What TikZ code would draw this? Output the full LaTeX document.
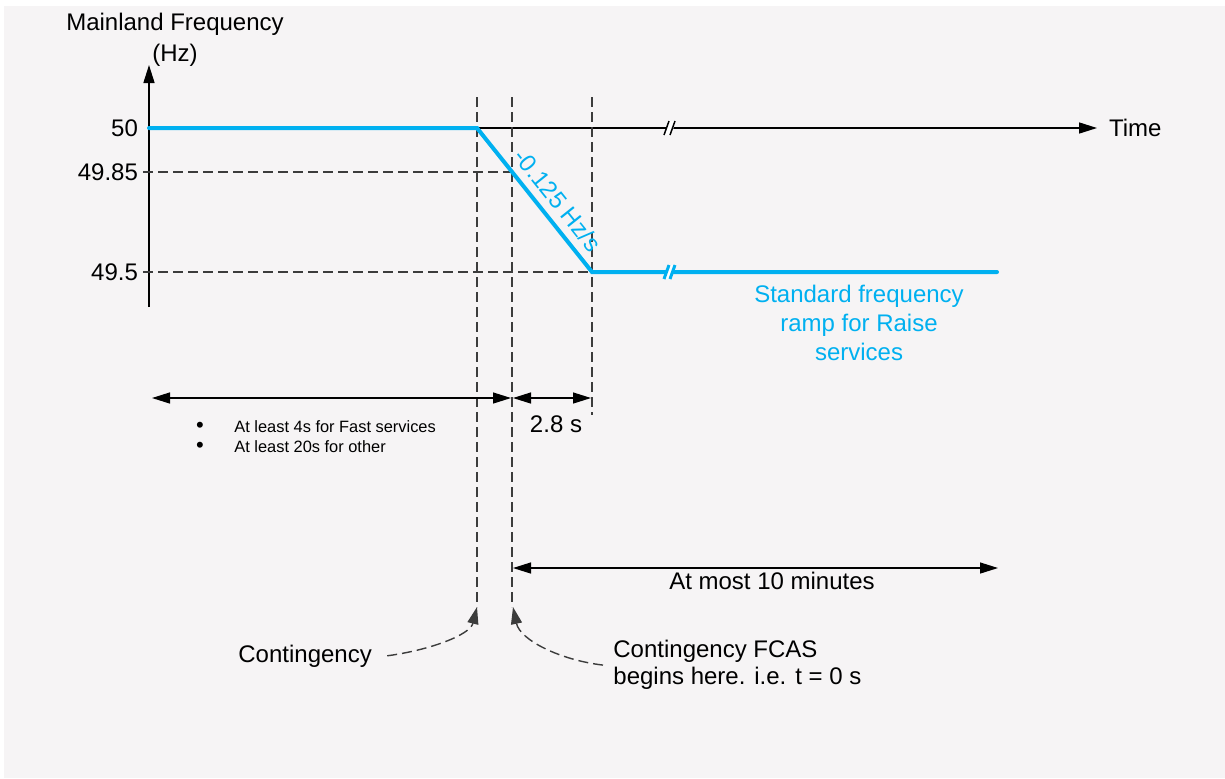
\documentclass[tikz,border=0pt]{standalone}
\usepackage{fontspec}
\setmainfont{Liberation Sans}
\usetikzlibrary{arrows.meta}
\definecolor{frqblue}{RGB}{0,176,240}
\definecolor{frqgrey}{RGB}{246,244,245}
\definecolor{frqdash}{RGB}{60,60,60}

\begin{document}
\begin{tikzpicture}[x=0.5pt,y=-0.5pt,
  font=\fontsize{12}{14.5}\selectfont,
  axis/.style={line width=0.75pt, -{Triangle[length=9pt,width=5.5pt]}},
  span/.style={line width=0.65pt, {Triangle[length=9pt,width=5.5pt]}-{Triangle[length=9pt,width=5.5pt]}},
  guide/.style={frqdash, line width=0.7pt, dash pattern=on 5pt off 2.5pt},
  ramp/.style={frqblue, line width=2pt, line cap=round},
  pointer/.style={guide, -{Triangle[length=8.5pt,width=5.5pt]}},
  small/.style={font=\fontsize{8.2}{10}\selectfont, inner sep=0}]
\useasboundingbox (0,0) rectangle (1225,778);
\fill[white] (0,0) rectangle (1225,778);
\fill[frqgrey] (4,6) rectangle (1225,778);

% Axes
\draw[axis] (149,307) -- (149,65);
\draw[axis] (149,128) -- (1097,128);
\node[anchor=base] (title) at (175,30) {Mainland Frequency};
\node[anchor=base] (unit) at (175,61) {(Hz)};
\node[anchor=west] (time) at (1102,128) {Time};

% Frequency levels
\node[anchor=east] (f50) at (145,128) {50};
\node[anchor=east] (f4985) at (145,172) {49.85};
\node[anchor=east] (f495) at (145,272) {49.5};

% Guide lines
\draw[guide] (477,97) -- (477,607);
\draw[guide] (512,97) -- (512,607);
\draw[guide] (592,97) -- (592,415);
\draw[guide] (143,172) -- (512,172);
\draw[guide] (143,272) -- (592,272);

% Frequency ramp
\draw[ramp] (149,128) -- (477,128) -- (592,272) -- (997,272);
\path (477,128) -- (592,272)
  node[pos=0.58, sloped, above=3.5pt, inner sep=1pt, text=frqblue] (slope) {-0.125 Hz/s};
\node[align=center, anchor=north, inner sep=0, text=frqblue] (raise) at (859,285)
  {Standard frequency\\ramp for Raise\\services};

% Axis breaks
\foreach \yb/\cb/\lw in {128/black/0.75pt, 272/frqblue/1.5pt} {
  \fill[white] (664,\yb+7) -- (669,\yb-7) -- (676,\yb-7) -- (671,\yb+7) -- cycle;
  \draw[\cb, line width=\lw] (664,\yb+7) -- (669,\yb-7);
  \draw[\cb, line width=\lw] (670,\yb+7) -- (675,\yb-7);
}

% Durations
\draw[span] (152,398) -- (511,398);
\draw[span] (513,398) -- (591,398);
\node (dur) at (556,424) {2.8 s};
\node[small, anchor=base, font=\fontsize{11}{12}\selectfont] (dot1) at (200,432) {\textbullet};
\node[small, anchor=base west] (fast) at (234,432) {At least 4s for Fast services};
\node[small, anchor=base, font=\fontsize{11}{12}\selectfont] (dot2) at (200,452) {\textbullet};
\node[small, anchor=base west] (other) at (234,452) {At least 20s for other};
\draw[span] (513,568) -- (998,568);
\node[anchor=base] (window) at (772,589) {At most 10 minutes};

% Events
\coordinate (conttip) at (477,607);
\coordinate (fcastip) at (513,607);
\node[anchor=base west, inner sep=0] (cont) at (238,662) {Contingency};
\node[align=left, anchor=north west, inner sep=0, font=\fontsize{12}{13.5}\selectfont] (fcas) at (613,640)
  {Contingency FCAS\\begins here. i.e. t = 0 s};
\draw[pointer] ([xshift=7.5pt]cont.east) .. controls (430,650) and (470,635) .. (conttip);
\draw[pointer] ([xshift=-5pt]fcas.west) .. controls (560,660) and (520,640) .. (fcastip);
\end{tikzpicture}
\end{document}
